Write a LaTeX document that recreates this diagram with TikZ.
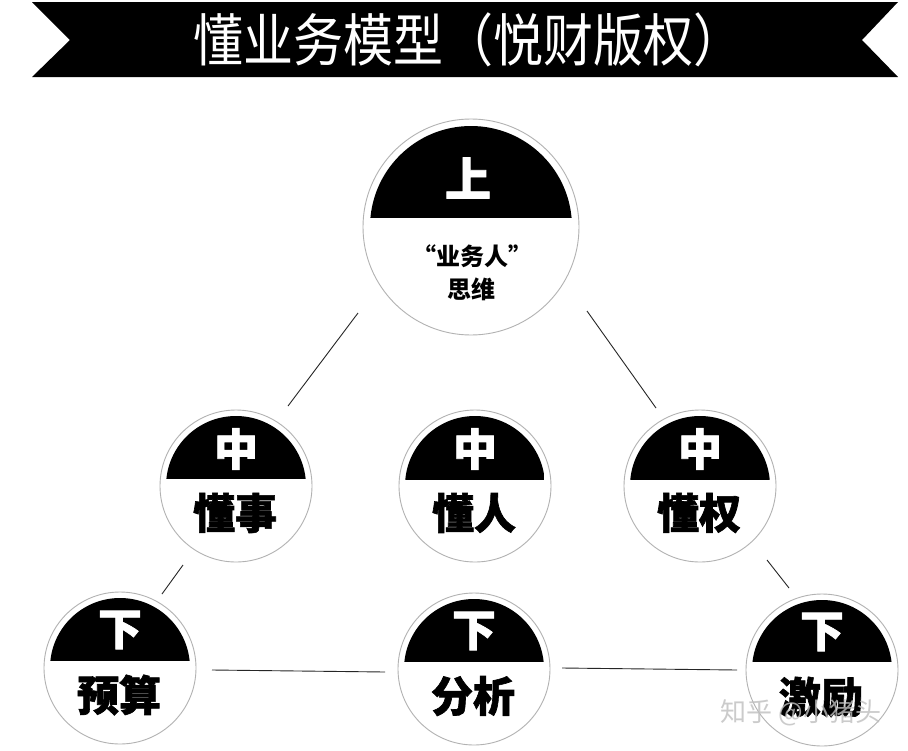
\documentclass[tikz,border=0pt]{standalone}
\usepackage{fontspec}
\usepackage{graphicx}
\newfontfamily\cjk{Noto Sans CJK SC}
\newfontfamily\cjkh{Noto Sans CJK SC}[BoldFeatures={FakeBold=1.5}]
\newcommand\badge[9]{%
  % #1 name, #2 cx, #3 cy, #4 outer r, #5 inner r, #6 chord y, #7 cap text, #8 label, #9 cap text dy
  \begin{scope}
    \clip (#2,#3) circle[radius=#5];
    \fill[black] ({#2-#5},{#3-#5}) rectangle ({#2+#5},#6);
  \end{scope}
  \node[ring, minimum size={2*#4*1pt}] (#1) at (#2,#3) {};
  \node[captext] (#1-cap) at (#2,{#3+#9}) {#7};
  \node[labtext] (#1-lab) at ({#2-1},{#3+27}) {#8};
}
\begin{document}
\begin{tikzpicture}[x=1pt,y=-1pt,
  ring/.style={circle, draw=black!30, line width=0.9pt, inner sep=0pt},
  link/.style={draw=black!85, line width=0.9pt},
  captext/.style={text=white, inner sep=0pt, font=\cjkh\bfseries\fontsize{44}{44}\selectfont},
  labtext/.style={text=black, inner sep=0pt, font=\cjkh\bfseries\fontsize{42}{42}\selectfont},
  toptext/.style={text=black, inner sep=0pt, font=\cjk\bfseries\fontsize{24}{24}\selectfont}]
\useasboundingbox (0,0) rectangle (908,750);
\fill[white] (0,0) rectangle (908,750);
% banner
\fill[black] (32,2) -- (898,2) -- (862,40) -- (898,77) -- (32,77) -- (70,40) -- cycle;
\node[text=white, inner sep=0pt, font=\cjk\fontsize{50}{50}\selectfont] (title) at (468,40) {\scalebox{1}[1.14]{懂业务模型（悦财版权）}};
% top circle
\begin{scope}
  \clip (471,227) circle[radius=101];
  \fill[black] (370,120) rectangle (572,218);
\end{scope}
\node[ring, minimum size=216pt] (top) at (471,227) {};
\node[captext, font=\cjkh\bfseries\fontsize{46}{46}\selectfont] (top-cap) at (468,178) {上};
\node[toptext] (top-l1) at (472,256) {“业务人”};
\node[toptext] (top-l2) at (471,289) {思维};
% middle row
\badge{m1}{236}{486}{76}{70}{479}{中}{懂事}{-37}
\badge{m2}{475}{486}{76}{70}{480}{中}{懂人}{-37}
\badge{m3}{700}{486}{76}{70}{480}{中}{懂权}{-37}
% bottom row
\badge{b1}{120}{668}{76}{70}{661}{下}{预算}{-38}
\badge{b2}{474}{669}{76}{70}{662}{下}{分析}{-38}
\badge{b3}{822}{670}{76}{70}{662}{下}{激励}{-38}
% connectors
\draw[link] ([shift={(-113,86)}]top.center) -- ([shift={(52,-80)}]m1.center);
\draw[link] ([shift={(116,84)}]top.center) -- ([shift={(-44,-78)}]m3.center);
\draw[link] ([shift={(-53,79)}]m1.center) -- ([shift={(42,-74)}]b1.center);
\draw[link] ([shift={(67,74)}]m3.center) -- ([shift={(-33,-82)}]b3.center);
\draw[link] ([shift={(92,2)}]b1.center) -- ([shift={(-89,3)}]b2.center);
\draw[link] ([shift={(88,-1)}]b2.center) -- ([shift={(-85,0)}]b3.center);
% watermark
\node[text=black!25, opacity=0.8, inner sep=0pt, font=\cjk\fontsize{26}{26}\selectfont] (wm) at (801,713) {知乎 @小猪头};
\end{tikzpicture}
\end{document}
